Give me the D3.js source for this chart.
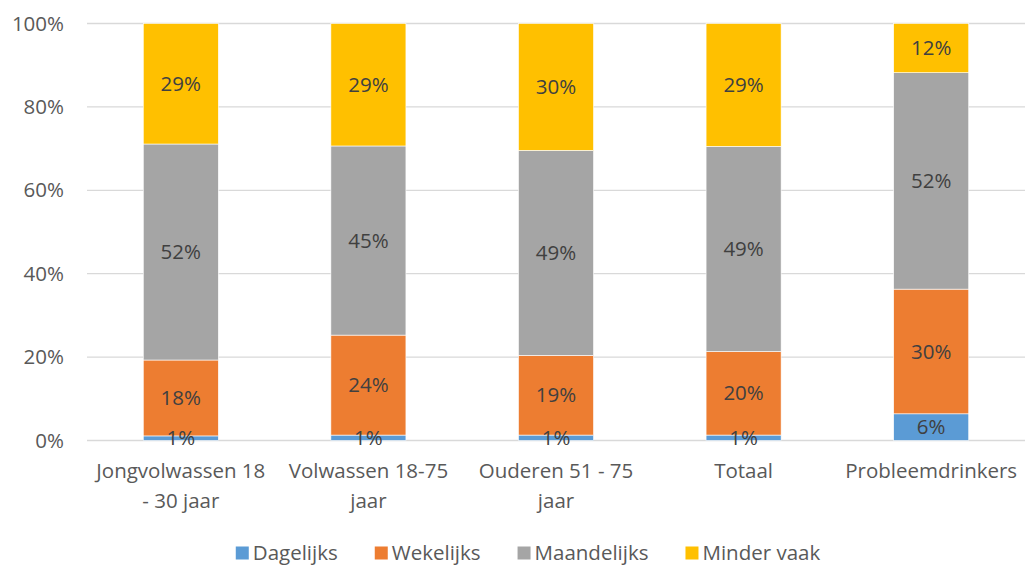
<!DOCTYPE html>
<html>
<head>
<meta charset="utf-8">
<script src="https://cdn.jsdelivr.net/npm/d3@7"></script>
<style>
  body { margin: 0; background: #fff; }
  svg text { font-family: "Open Sans", "Noto Sans", sans-serif; }
</style>
</head>
<body>
<div id="chart"></div>
<script>
// categories and series
var categories = ["Jongvolwassen 18 - 30 jaar", "Volwassen 18-75 jaar", "Ouderen 51 - 75 jaar", "Totaal", "Probleemdrinkers"];
var seriesNames = ["Dagelijks", "Wekelijks", "Maandelijks", "Minder vaak"];
var dagelijks = [1.1, 1.3, 1.3, 1.3, 6.4];
var wekelijks = [18.2, 24.0, 19.1, 20.0, 29.9];
var maandelijks = [51.8, 45.4, 49.1, 49.1, 51.9];
var minderVaak = [28.9, 29.4, 30.4, 29.4, 11.8];
var yTicks = [0, 0.2, 0.4, 0.6, 0.8, 1];

var colors = ["#5B9BD5", "#ED7D31", "#A5A5A5", "#FFC000"];
var fontSize = 20.5;

var width = 1025, height = 566;
var margin = {top: 23.5, right: 0, bottom: 125.5, left: 87};

var svg = d3.select("#chart").append("svg")
    .attr("width", width)
    .attr("height", height);

// build table for stack
var allSeries = [dagelijks, wekelijks, maandelijks, minderVaak];
var table = categories.map(function(c, i) {
  var row = {cat: c};
  seriesNames.forEach(function(s, j) { row[s] = allSeries[j][i]; });
  return row;
});

var stack = d3.stack().keys(seriesNames).offset(d3.stackOffsetExpand);
var layers = stack(table);

var x = d3.scaleBand()
    .domain(categories)
    .range([margin.left, width - margin.right])
    .paddingInner(0.6)
    .paddingOuter(0.3);

var y = d3.scaleLinear()
    .domain([0, 1])
    .range([height - margin.bottom, margin.top]);

// gridlines
svg.append("g")
    .selectAll("line")
    .data(yTicks)
    .enter().append("line")
    .attr("x1", margin.left)
    .attr("x2", width - margin.right)
    .attr("y1", function(d) { return y(d); })
    .attr("y2", function(d) { return y(d); })
    .attr("stroke", "#D9D9D9")
    .attr("stroke-width", 1.3);

// y axis
var yAxis = d3.axisLeft(y).tickValues(yTicks).tickFormat(d3.format(".0%")).tickSize(0).tickPadding(23);
var yG = svg.append("g")
    .attr("transform", "translate(" + margin.left + ",0)")
    .call(yAxis);
yG.select(".domain").remove();
yG.selectAll("text")
    .attr("font-size", fontSize)
    .attr("fill", "#595959");

// bars
var layerG = svg.append("g")
    .selectAll("g")
    .data(layers)
    .enter().append("g")
    .attr("fill", function(d, i) { return colors[i]; });

layerG.selectAll("rect")
    .data(function(d) { return d; })
    .enter().append("rect")
    .attr("x", function(d) { return x(d.data.cat); })
    .attr("width", x.bandwidth())
    .attr("y", function(d) { return y(d[1]); })
    .attr("height", function(d) { return y(d[0]) - y(d[1]); })
    .attr("stroke", "#fff")
    .attr("stroke-width", 0.6);

// data labels, on top of all bars
var fmt = d3.format(".0%");
var labelG = svg.append("g")
    .selectAll("g")
    .data(layers)
    .enter().append("g");

labelG.selectAll("text")
    .data(function(d) { return d; })
    .enter().append("text")
    .attr("x", function(d) { return x(d.data.cat) + x.bandwidth() / 2; })
    .attr("y", function(d) { return (y(d[0]) + y(d[1])) / 2; })
    .attr("dy", "0.35em")
    .attr("text-anchor", "middle")
    .attr("font-size", fontSize)
    .attr("fill", "#404040")
    .text(function(d) { return fmt(d[1] - d[0]); });

// x axis labels, wrapped
var xAxis = d3.axisBottom(x).tickSize(0).tickPadding(0);
var xG = svg.append("g")
    .attr("transform", "translate(0," + (height - margin.bottom) + ")")
    .call(xAxis);
xG.select(".domain").remove();
xG.selectAll("text")
    .attr("font-size", fontSize)
    .attr("fill", "#595959")
    .call(wrap, 180);

function wrap(texts, maxW) {
  texts.each(function() {
    var text = d3.select(this);
    var words = text.text().split(/\s+/);
    var lines = [], line = [];
    text.text(null);
    var probe = text.append("tspan");
    words.forEach(function(w) {
      line.push(w);
      probe.text(line.join(" "));
      if (probe.node().getComputedTextLength() > maxW && line.length > 1) {
        line.pop();
        lines.push(line.join(" "));
        line = [w];
      }
    });
    lines.push(line.join(" "));
    probe.remove();
    lines.forEach(function(l, i) {
      text.append("tspan")
          .attr("x", 0)
          .attr("y", 37 + i * 30)
          .text(l);
    });
    text.attr("dy", null);
  });
}

// legend
var legend = svg.append("g");
var lx = 0, gap = 37;
seriesNames.forEach(function(s, i) {
  var item = legend.append("g").attr("transform", "translate(" + lx + ",0)");
  item.append("rect")
      .attr("x", 0).attr("y", -6.5)
      .attr("width", 13).attr("height", 13)
      .attr("fill", colors[i]);
  var t = item.append("text")
      .attr("x", 17)
      .attr("dy", "0.35em")
      .attr("font-size", fontSize)
      .attr("fill", "#595959")
      .text(s);
  lx += 17 + t.node().getComputedTextLength() + gap;
});
lx -= gap;
legend.attr("transform", "translate(" + (528 - lx / 2) + ",553)");
</script>
</body>
</html>
